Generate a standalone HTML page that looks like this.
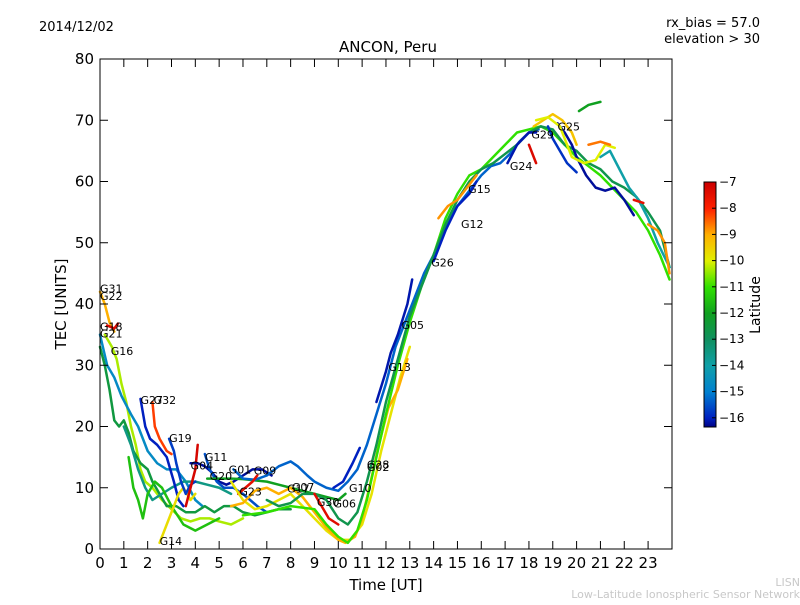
<!DOCTYPE html>
<html><head><meta charset="utf-8"><style>
body{margin:0;background:#fff;}
svg text{font-family:"DejaVu Sans","Liberation Sans",sans-serif;}
</style></head><body>
<svg id="chart" width="800" height="600" viewBox="0 0 800 600">
<rect width="800" height="600" fill="#fff"/>
<text x="39" y="31" font-size="13">2014/12/02</text>
<text x="760" y="27" font-size="13" text-anchor="end">rx_bias = 57.0</text>
<text x="760" y="43" font-size="13" text-anchor="end">elevation &gt; 30</text>
<text x="388" y="52" font-size="15" text-anchor="middle">ANCON, Peru</text>
<text x="386" y="590" font-size="15" text-anchor="middle">Time [UT]</text>
<text x="66" y="304" font-size="15" text-anchor="middle" transform="rotate(-90 66 304)">TEC [UNITS]</text>
<text x="800" y="586" font-size="11" fill="#c8c8c8" text-anchor="end">LISN</text>
<text x="800" y="598" font-size="11" fill="#c8c8c8" text-anchor="end">Low-Latitude Ionospheric Sensor Network</text>
<g id="plot"></g>
<g id="axes"></g>
<g id="cbar"></g>
<text x="760" y="305" font-size="14" text-anchor="middle" transform="rotate(-90 760 305)">Latitude</text>
</svg>
<script>
const xTicks=[0,1,2,3,4,5,6,7,8,9,10,11,12,13,14,15,16,17,18,19,20,21,22,23];
const yTicks=[0,10,20,30,40,50,60,70,80];
const cbTicks=[-7,-8,-9,-10,-11,-12,-13,-14,-15,-16];
const satNames=["G22","G18","G16","G21","S-dg1","S-teal1","S-g1","G27","G32","G14","G19","S-red4","G04","G11","G20","G09","G23","S-yel","S-org","S-grn","S-dg2","G10","G13","G30","G26","G12","G24","S-red24","G29","G25","S-grn20","S-blu19","S-cyan21","S-org23","S-red22","S-yel18","S-org20"];
const satLats=[-9,-7.3,-10.3,-14.7,-12.5,-13.5,-11.5,-16,-8.2,-9.7,-15.7,-7.2,-16.2,-15.5,-12,-15.3,-7.5,-9.8,-9,-11,-12.7,-16,-16.1,-7.4,-16,-8.8,-16.1,-7.3,-9.3,-16.2,-12,-15.8,-14,-8.8,-7.5,-10,-8.6];
const satTec=[
[[0,42],[0.2,40],[0.4,37],[0.6,35.5]],
[[0.3,36.5],[0.6,36],[0.75,36.8]],
[[0.2,35],[0.5,33],[0.7,31],[0.9,27],[1.1,24],[1.3,20],[1.5,17],[1.7,13],[1.9,11],[2.2,10],[2.6,8],[3,6.5],[3.4,5],[3.8,4.5],[4.2,5],[4.6,5],[5,4.5],[5.5,4],[6,5]],
[[0,35],[0.3,30],[0.6,28],[0.9,25],[1.3,22],[1.6,20],[2,16],[2.4,14],[2.8,13],[3.2,13],[3.6,11],[4,8],[4.3,7]],
[[0,33],[0.2,30],[0.4,26],[0.6,21],[0.8,20],[1,21],[1.2,19],[1.4,16],[1.7,14],[2,13],[2.2,11],[2.5,9],[2.8,7],[3.2,7],[3.6,6],[4,6],[4.4,7],[4.8,6],[5.2,7],[5.6,7],[6,6],[6.5,5.5],[7,6],[7.5,6.5],[8,6.5]],
[[1,20],[1.3,17],[1.6,13],[1.9,10],[2.2,8],[2.6,9],[3,10],[3.5,11],[4,11],[4.5,10.5],[5,10],[5.5,9]],
[[1.2,15],[1.4,10],[1.6,8],[1.8,5],[2,9],[2.3,11],[2.6,10],[3,7],[3.5,4],[4,3],[4.5,4],[5,5]],
[[1.7,24.5],[1.9,20],[2.1,18],[2.4,17],[2.8,15],[3.1,11],[3.3,8],[3.5,7]],
[[2.2,24],[2.3,20],[2.5,18],[2.8,16],[3,15.5]],
[[2.5,1],[2.7,3],[3,6],[3.3,9],[3.5,10],[3.8,8],[4,9]],
[[2.9,18],[3.1,16],[3.2,14],[3.4,11],[3.6,9],[3.8,10.5],[4,11]],
[[3.6,7],[3.8,10],[4,13],[4.1,17]],
[[3.8,14],[4.1,14],[4.4,13.5],[4.7,12.5],[5,11],[5.3,10.5],[5.6,11],[6,12],[6.4,13],[6.8,13],[7.2,12]],
[[4.4,15.5],[4.6,13],[4.9,11],[5.2,10],[5.6,10],[6,9],[6.3,8],[6.6,7],[7,6]],
[[4.5,11.5],[5,11.5],[5.5,11.5],[6,11.4],[6.5,11.2],[7,11],[7.5,10.5],[8,10],[8.5,9.5],[9,9],[9.5,8.5],[10,8],[10.3,9]],
[[5.6,13],[6,11.5],[6.5,11.3],[7,12],[7.5,13.5],[8,14.3],[8.3,13.5],[8.7,12],[9,11],[9.5,10],[10,9.5],[10.4,11],[10.8,13],[11.2,17],[11.6,22],[12,27],[12.4,33],[12.8,37],[13.2,41],[13.6,45],[14,48],[14.4,52],[14.8,55],[15.2,57],[15.6,59],[16,61],[16.4,62.5],[16.8,63],[17.2,64.5],[17.6,66.5],[18,68],[18.4,68.5]],
[[5.8,9],[6.1,10],[6.4,11],[6.6,12]],
[[5.5,11],[6,8],[6.5,6.5],[7,7],[7.5,8],[8,9],[8.5,7],[9,5],[9.5,3],[10,1.5],[10.5,1.5],[11,4],[11.4,9],[11.8,16],[12.2,22],[12.6,28],[13,33]],
[[5.5,7],[6,7.5],[6.5,9.5],[7,10],[7.5,9],[8,10],[8.5,8.5],[9,6],[9.5,3.5],[10,1.5],[10.3,1],[10.7,2],[11,5],[11.3,10],[11.7,17],[12.1,23],[12.5,26],[12.9,31]],
[[6,5.5],[7,6],[8,7],[9,6.5],[9.5,4],[10,2],[10.4,1],[10.8,3],[11.2,8],[11.6,15],[12,22],[12.5,30],[13,37],[13.5,43],[14,48],[14.5,54],[15,58],[15.5,61],[16,62],[16.5,64],[17,66],[17.5,68],[18,68.5],[18.5,69],[19,68],[19.5,66],[20,64],[20.5,62.5],[21,61],[21.5,59],[22,57],[22.5,55],[23,52],[23.5,48],[23.9,44]],
[[7,8],[7.5,7],[8,7.5],[8.5,9],[9,9],[9.5,8],[10,5],[10.4,4],[10.8,6],[11.2,11],[11.6,17],[12,24],[12.5,31],[13,38],[13.5,43],[14,48],[14.5,53],[15,57],[15.5,60],[16,62],[16.5,63],[17,64.5],[17.5,66],[18,68],[18.5,69],[19,68.5],[19.5,66],[20,65],[20.5,63],[21,62],[21.5,60],[22,59],[22.5,57.5],[23,55],[23.5,52],[23.9,46]],
[[9.8,10],[10.2,11],[10.6,14],[10.9,16.5]],
[[11.6,24],[12,29],[12.2,32],[12.5,35],[12.9,40],[13.1,44]],
[[9,9],[9.3,7],[9.6,5],[10,4]],
[[14,47],[14.5,52],[15,56],[15.5,58],[15.8,60]],
[[14.2,54],[14.6,56],[15,57],[15.4,59],[15.8,61]],
[[17.1,63],[17.5,66],[18,68],[18.3,68]],
[[18,66],[18.3,63]],
[[18.2,69],[18.6,70],[19,71],[19.4,70],[19.8,68],[20,66]],
[[19.2,69.5],[19.5,68],[19.8,66],[20,64],[20.4,61],[20.8,59],[21.2,58.5],[21.6,59],[22,57],[22.4,54.5]],
[[20.1,71.5],[20.5,72.5],[21,73]],
[[18.8,69],[19,67],[19.3,65],[19.6,63],[20,61.5]],
[[21,64],[21.4,65],[21.8,62],[22.2,59],[22.6,57],[23,54],[23.4,50],[23.9,46]],
[[23,53],[23.4,52],[23.7,50],[23.9,45]],
[[22.4,57],[22.8,56.5]],
[[18.3,70],[18.8,70.5],[19.3,69],[19.8,64],[20.3,63],[20.8,63.5],[21.2,66],[21.6,65.5]],
[[20.5,66],[21,66.5],[21.4,66]]
];
const labelNames=["G31","G22","G18","G21","G16","G27","G32","G19","G04","G11","G20","G01","G09","G23","G17","G07","G30","G06","G10","G28","G02","G13","G05","G26","G12","G15","G24","G29","G25","G14"];
const labelHours=[0,0,0,0,0.45,1.7,2.25,2.9,3.8,4.4,4.6,5.4,6.45,5.85,7.85,8.05,9.1,9.8,10.45,11.2,11.2,12.1,12.65,13.9,15.15,15.45,17.2,18.1,19.2,2.5];
const labelTecs=[42.5,41.3,36.3,35.2,32.3,24.3,24.3,18.1,13.6,15.0,11.9,13.0,12.8,9.4,9.9,10.1,7.7,7.4,10.0,13.8,13.4,29.7,36.6,46.8,53.1,58.8,62.5,67.7,69.0,1.3];
const X=h=>100+h*23.83, Y=v=>549-v*6.125;
const NS="http://www.w3.org/2000/svg";
function mk(t,a,p){const e=document.createElementNS(NS,t);for(const k in a)e.setAttribute(k,a[k]);p.appendChild(e);return e;}
const stops=[[-7,[204,0,0]],[-8,[255,32,0]],[-9,[255,176,0]],[-10,[224,240,0]],[-11,[48,224,0]],[-12,[16,160,32]],[-13,[16,144,96]],[-14,[16,160,168]],[-15,[0,128,208]],[-16,[0,32,192]],[-16.35,[0,0,128]]];
function col(l){for(let i=0;i<stops.length-1;i++){const a=stops[i],b=stops[i+1];if(l<=a[0]&&l>=b[0]){const t=(a[0]-l)/(a[0]-b[0]);const c=a[1].map((v,j)=>Math.round(v+(b[1][j]-v)*t));return `rgb(${c})`;}}return l>-7?"rgb(204,0,0)":"rgb(0,0,128)";}
const plot=document.getElementById('plot');
satTec.forEach((s,i)=>{
 const p=mk('polyline',{points:s.map(q=>X(q[0])+','+Y(q[1])).join(' '),fill:'none',stroke:col(satLats[i]),'stroke-width':2.5,'stroke-linejoin':'round','stroke-linecap':'round'},plot);
 
 
});
labelNames.forEach((n,i)=>{
 const t=mk('text',{x:X(labelHours[i]),y:Y(labelTecs[i])+4,'font-size':11},plot);t.textContent=n;
 
 
});
const ax=document.getElementById('axes');
const fr=mk('rect',{x:100,y:59,width:572,height:490,fill:'none',stroke:'#000','stroke-width':1},ax);


xTicks.forEach(h=>{
 mk('line',{x1:X(h),x2:X(h),y1:549,y2:541,stroke:'#000'},ax);
 mk('line',{x1:X(h),x2:X(h),y1:59,y2:67,stroke:'#000'},ax);
 const t=mk('text',{x:X(h),y:568,'font-size':15,'text-anchor':'middle'},ax);t.textContent=h;
 
 
});
yTicks.forEach(v=>{
 mk('line',{x1:100,x2:108,y1:Y(v),y2:Y(v),stroke:'#000'},ax);
 mk('line',{x1:672,x2:664,y1:Y(v),y2:Y(v),stroke:'#000'},ax);
 const t=mk('text',{x:94,y:Y(v)+5,'font-size':15,'text-anchor':'end'},ax);t.textContent=v;
 
 
});
const cb=document.getElementById('cbar');
const CY=l=>182+(-7-l)*26.2;
for(let y=182;y<427;y++){const l=-7-(y-182)/26.2;mk('rect',{x:704,y:y,width:12,height:1.2,fill:col(l)},cb);}
const cf=mk('rect',{x:704,y:182,width:12,height:245,fill:'none',stroke:'#000'},cb);


cbTicks.forEach(l=>{
 mk('line',{x1:712,x2:716,y1:CY(l),y2:CY(l),stroke:'#000'},cb);
 const t=mk('text',{x:719,y:CY(l)+4,'font-size':12},cb);t.textContent='\u2212'+(-l);
 
 
});
</script>
</body></html>
